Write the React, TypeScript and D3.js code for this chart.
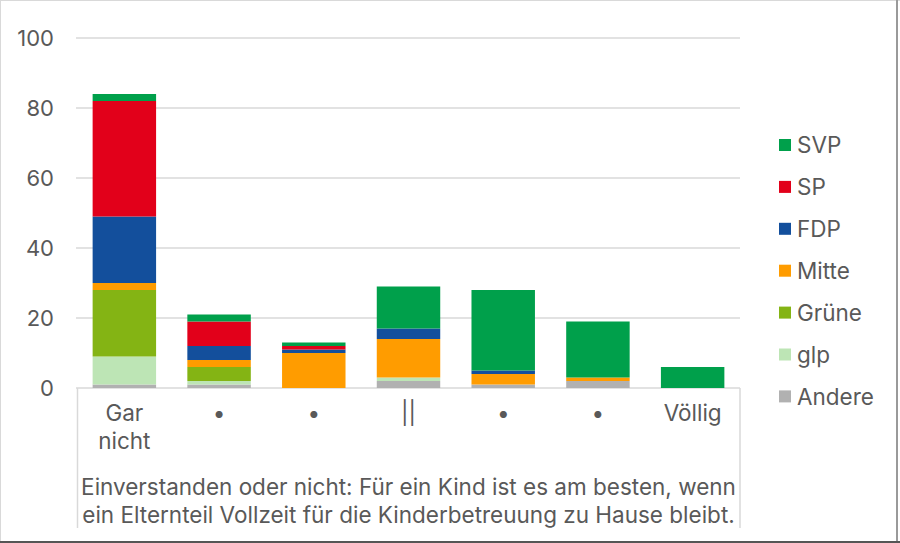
import React from "react";
import * as d3 from "d3";

const categories = ["Gar nicht", "•1", "•2", "||", "•3", "•4", "Völlig"];
const categoryLabels = [["Gar", "nicht"], ["•"], ["•"], ["||"], ["•"], ["•"], ["Völlig"]];
const parties = ["Andere", "glp", "Grüne", "Mitte", "FDP", "SP", "SVP"];
const legendOrder = ["SVP", "SP", "FDP", "Mitte", "Grüne", "glp", "Andere"];
const colors: Record<string, string> = {
  SVP: "#00a04b",
  SP: "#e2001a",
  FDP: "#134f9c",
  Mitte: "#ff9c00",
  Grüne: "#84b414",
  glp: "#bde5b5",
  Andere: "#b1b1b1",
};
const andere = [1, 1, 0, 2, 1, 2, 0];
const glp = [8, 1, 0, 1, 0, 0, 0];
const gruene = [19, 4, 0, 0, 0, 0, 0];
const mitte = [2, 2, 10, 11, 3, 1, 0];
const fdp = [19, 4, 1, 3, 1, 0, 0];
const sp = [33, 7, 1, 0, 0, 0, 0];
const svp = [2, 2, 1, 12, 23, 16, 6];
const yTicks = [0, 20, 40, 60, 80, 100];
const titleLines = [
  "Einverstanden oder nicht: Für ein Kind ist es am besten, wenn",
  "ein Elternteil Vollzeit für die Kinderbetreuung zu Hause bleibt.",
];

const series: Record<string, number[]> = {
  Andere: andere,
  glp: glp,
  Grüne: gruene,
  Mitte: mitte,
  FDP: fdp,
  SP: sp,
  SVP: svp,
};

export default function App() {
  const W = 900, H = 543;
  const x = d3.scaleBand<string>().domain(categories).range([77, 740]).paddingInner(0.33).paddingOuter(0.165);
  const y = d3.scaleLinear().domain([0, 100]).range([388, 38]);
  const rows = categories.map((c, i) => {
    const r: any = { cat: c };
    parties.forEach((p) => (r[p] = series[p][i]));
    return r;
  });
  const stacked = d3.stack<any>().keys(parties)(rows);
  const font = "Inter, 'Noto Sans', sans-serif";
  const textColor = "#595959";
  const fs = 22.5;
  return (
    <svg width={W} height={H} style={{ position: "absolute", left: 0, top: 0 }} fontFamily={font}>
      <rect x={0} y={0} width={W} height={H} fill="#fff" />
      <line x1={0.5} x2={0.5} y1={0} y2={H} stroke="#d9d9d9" />
      <line x1={0} x2={W} y1={0.5} y2={0.5} stroke="#d9d9d9" />
      <line x1={897} x2={897} y1={0} y2={H} stroke="#9a9a9a" strokeWidth={2} />
      <line x1={0} x2={W} y1={542} y2={542} stroke="#555" strokeWidth={2} />
      {yTicks.map((t) => (
        <g key={t}>
          <line x1={76} x2={740} y1={y(t)} y2={y(t)} stroke="#d9d9d9" strokeWidth={1.5} />
          <text x={54} y={y(t)} dy="0.36em" textAnchor="end" fontSize={22} fill={textColor}>
            {t}
          </text>
        </g>
      ))}
      {stacked.map((s) => (
        <g key={s.key} fill={colors[s.key]}>
          {s.map((d, i) => (
            <rect
              key={i}
              x={x(categories[i])}
              width={x.bandwidth()}
              y={y(d[1])}
              height={Math.max(0, y(d[0]) - y(d[1]))}
            />
          ))}
        </g>
      ))}
      <line x1={77.5} x2={77.5} y1={388} y2={528} stroke="#d9d9d9" strokeWidth={1.5} />
      <line x1={740} x2={740} y1={388} y2={528} stroke="#d9d9d9" strokeWidth={1.5} />
      {categories.map((c, i) => (
        <text key={c} x={(x(c) as number) + x.bandwidth() / 2} y={421} textAnchor="middle" fontSize={fs} fill={textColor}>
          {categoryLabels[i].map((l, j) => (
            <tspan key={j} x={(x(c) as number) + x.bandwidth() / 2} dy={j === 0 ? 0 : 28}>
              {l}
            </tspan>
          ))}
        </text>
      ))}
      {titleLines.map((l, i) => (
        <text key={i} x={408.5} y={495 + i * 28} textAnchor="middle" fontSize={fs} fill={textColor}>
          {l}
        </text>
      ))}
      {legendOrder.map((p, i) => (
        <g key={p} transform={`translate(779, ${145 + i * 41.9})`}>
          <rect x={0} y={-6} width={12} height={12} fill={colors[p]} />
          <text x={18} y={0} dy="0.36em" fontSize={fs} fill={textColor}>
            {p}
          </text>
        </g>
      ))}
    </svg>
  );
}
